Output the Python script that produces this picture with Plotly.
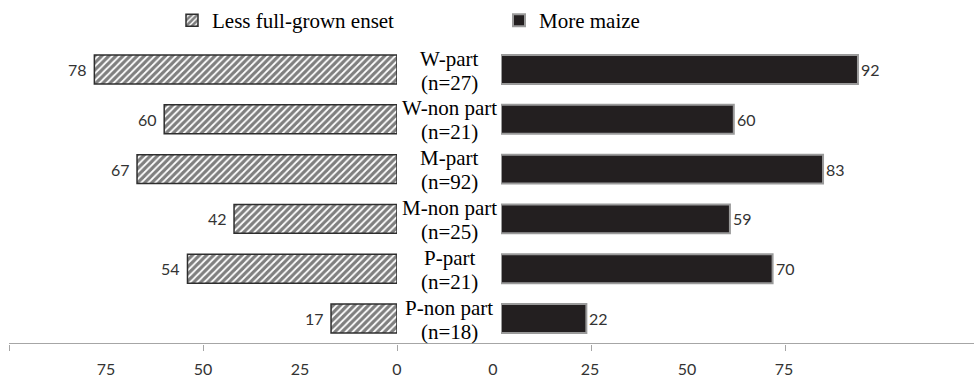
import plotly.graph_objects as go

# Data
groups = ["W-part", "W-non part", "M-part", "M-non part", "P-part", "P-non part"]
group_n = [27, 21, 92, 25, 21, 18]
less_enset = [78, 60, 67, 42, 54, 17]
more_maize = [92, 60, 83, 59, 70, 22]
tick_values = [0, 25, 50, 75]

W, H = 974, 379
PX_PER_UNIT = 3.88          # pixels per percentage point on both panels
LEFT_ZERO_PX = 397          # left panel zero line
RIGHT_ZERO_PX = 501         # right panel zero line
BASE_START_PX = 9           # start of the shared baseline

serif = "Times New Roman, Liberation Serif, Tinos, serif"
sans = "Lato, Carlito, sans-serif"
label_color = "#333333"

fig = go.Figure()

fig.add_trace(go.Bar(
    name="Less full-grown enset",
    y=groups, x=less_enset, orientation="h",
    xaxis="x", yaxis="y",
    marker=dict(
        color="white",
        line=dict(color="#2e2e2e", width=1.5),
        pattern=dict(shape="/", fgcolor="black", bgcolor="white", size=5, solidity=0.65),
    ),
))
fig.add_trace(go.Bar(
    name="More maize",
    y=groups, x=more_maize, orientation="h",
    xaxis="x2", yaxis="y",
    marker=dict(color="#231f20", line=dict(color="#9a9a9a", width=2)),
))
# Empty trace so the shared baseline axis gets drawn
fig.add_trace(go.Scatter(x=[None], y=[None], xaxis="x3", yaxis="y",
                         mode="markers", showlegend=False, hoverinfo="skip"))

annotations = []
# Value labels at the bar ends
for g, v in zip(groups, less_enset):
    annotations.append(dict(x=v, y=g, xref="x", yref="y", text=str(v), showarrow=False,
                            xanchor="right", xshift=-5,
                            font=dict(family=sans, size=16, color=label_color)))
for g, v in zip(groups, more_maize):
    annotations.append(dict(x=v, y=g, xref="x2", yref="y", text=str(v), showarrow=False,
                            xanchor="left", xshift=1,
                            font=dict(family=sans, size=16, color=label_color)))
# Group names in the centre column
center_x = 449 / W
for g, n in zip(groups, group_n):
    annotations.append(dict(x=center_x, y=g, xref="paper", yref="y", text=g, showarrow=False,
                            xanchor="center", yshift=11,
                            font=dict(family=serif, size=21, color="black")))
    annotations.append(dict(x=center_x, y=g, xref="paper", yref="y", text=f"(n={n})",
                            showarrow=False, xanchor="center", yshift=-13,
                            font=dict(family=serif, size=21, color="black")))

left_max = LEFT_ZERO_PX / PX_PER_UNIT
right_max = (W - RIGHT_ZERO_PX) / PX_PER_UNIT
base_lo = (LEFT_ZERO_PX - BASE_START_PX) / PX_PER_UNIT
base_hi = (LEFT_ZERO_PX - W) / PX_PER_UNIT

y_top_px, y_bot_px = 44.6, 343.4

fig.update_layout(
    width=W, height=H,
    margin=dict(l=0, r=0, t=0, b=0, autoexpand=False),
    paper_bgcolor="white", plot_bgcolor="rgba(0,0,0,0)",
    bargap=0.42,
    showlegend=True,
    legend=dict(orientation="h", x=172 / W, xanchor="left", y=1.0, yanchor="top",
                entrywidth=282, entrywidthmode="pixels",
                font=dict(family=serif, size=21, color="black"),
                bgcolor="rgba(0,0,0,0)"),
    xaxis=dict(domain=[0, LEFT_ZERO_PX / W], range=[left_max, 0], anchor="y",
               automargin=False,
               showgrid=False, zeroline=False, showline=False, ticks="",
               tickmode="array", tickvals=tick_values, ticklabelstandoff=15,
               tickfont=dict(family=sans, size=16, color=label_color)),
    xaxis2=dict(domain=[RIGHT_ZERO_PX / W, 1], range=[0, right_max], anchor="y",
                automargin=False,
                showgrid=False, zeroline=False, showline=False, ticks="",
                tickmode="array", tickvals=tick_values, ticklabelshift=-8,
                ticklabelstandoff=15,
                tickfont=dict(family=sans, size=16, color=label_color)),
    xaxis3=dict(domain=[BASE_START_PX / W, 1], range=[base_lo, base_hi], anchor="y",
                automargin=False,
                showgrid=False, zeroline=False, showline=True, linecolor="#a6a6a6",
                linewidth=1.2, ticks="outside", ticklen=6, tickcolor="#a6a6a6",
                tickmode="linear", tick0=0, dtick=50, showticklabels=False),
    yaxis=dict(domain=[(H - y_bot_px) / H, (H - y_top_px) / H],
               automargin=False,
               type="category", categoryorder="array", categoryarray=groups,
               range=[len(groups) - 0.5, -0.5],
               showgrid=False, zeroline=False, showline=False, showticklabels=False,
               ticks=""),
    annotations=annotations,
)

fig.write_html("out.html")
